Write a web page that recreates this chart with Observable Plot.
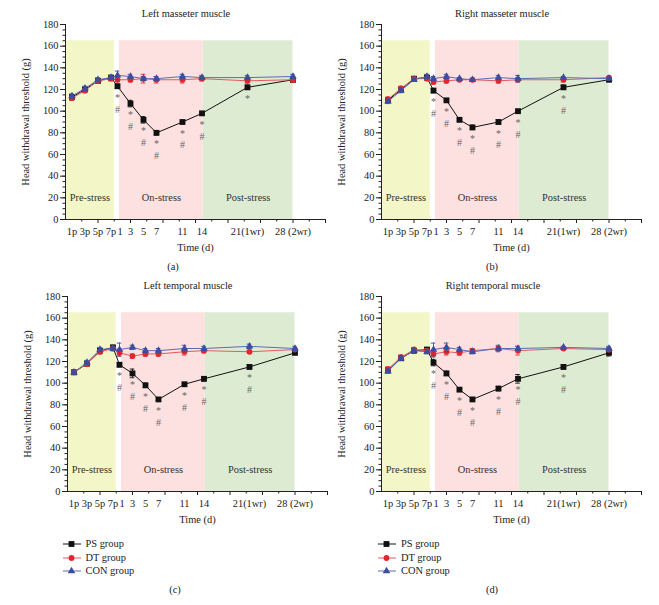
<!DOCTYPE html>
<html><head><meta charset="utf-8">
<script src="https://cdn.jsdelivr.net/npm/d3@7"></script>
<script src="https://cdn.jsdelivr.net/npm/@observablehq/plot@0.6"></script>
<style>
body{margin:0;background:#fff;}
#root{position:relative;width:659px;height:605px;overflow:hidden;font-family:"Liberation Serif","Times New Roman",serif;color:#222;background:#fff;}
.abs{position:absolute;white-space:nowrap;font-size:10.4px;line-height:12px;}
.c{transform:translateX(-50%);}
.panel{position:absolute;}
.leg{position:absolute;font-size:10.4px;line-height:12px;white-space:nowrap;}
.leg div{height:13.5px;display:flex;align-items:center;}
.leg svg{margin-right:5px;}
</style></head><body><div id="root"></div>
<script>
// ---- data ----
const days = [-6, -4, -2, 0, 1, 3, 5, 7, 11, 14, 21, 28];
const dayLabels = ["1p", "3p", "5p", "7p", "1", "3", "5", "7", "11", "14", "21(1wr)", "28 (2wr)"];
const groups = ["PS group", "DT group", "CON group"];
const groupColors = ["#111111", "#e3262d", "#3a4d9e"];
const lineColors = ["#111111", "#e55a5f", "#5a6db5"];
const groupSymbols = ["square", "circle", "triangle"];
const groupR = [3.3, 2.9, 2.8];

const phaseNames = ["Pre-stress", "On-stress", "Post-stress"];
const phaseStart = [-7, 1.3, 14.2];
const phaseEnd = [0.5, 14.2, 28];
const phaseColors = ["#f3f6c6", "#fde0e0", "#deebd3"];

const titles = ["Left masseter muscle", "Right masseter muscle", "Left temporal muscle", "Right temporal muscle"];
const captions = ["(a)", "(b)", "(c)", "(d)"];

// (a) Left masseter
const aPS  = [113, 120, 128, 131, 123, 107, 92, 80, 90, 98, 122, 129];
const aDT  = [112, 119, 128, 130, 129, 129, 130, 129, 129, 130, 128, 129];
const aCON = [114, 121, 129, 131, 133, 132, 130, 130, 132, 131, 131, 132];
const aPSe  = [2, 2, 2, 2, 2, 3, 3, 2, 1, 1, 2, 2];
const aDTe  = [2, 2, 2, 2, 2, 2, 4, 3, 3, 2, 2, 2];
const aCONe = [2, 2, 2, 2, 4, 2, 2, 2, 2, 2, 2, 2];
const aSig = ["", "", "", "", "*#", "*#", "*#", "*#", "*#", "*#", "*", ""];

// (b) Right masseter
const bPS  = [110, 120, 130, 131, 119, 110, 92, 85, 90, 100, 122, 129];
const bDT  = [111, 121, 130, 130, 127, 128, 129, 129, 128, 129, 129, 131];
const bCON = [109, 119, 129, 132, 130, 132, 130, 129, 131, 130, 131, 130];
const bPSe  = [2, 2, 1, 2, 2, 1, 1, 2, 2, 1, 2, 1];
const bDTe  = [2, 2, 1, 1, 2, 2, 1, 1, 2, 2, 2, 1];
const bCONe = [2, 2, 1, 2, 2, 2, 1, 1, 2, 3, 1, 1];
const bSig = ["", "", "", "", "*#", "*#", "*#", "*#", "*#", "*#", "*#", ""];

// (c) Left temporal
const cPS  = [110, 118, 130, 133, 117, 109, 98, 85, 99, 104, 115, 128];
const cDT  = [110, 118, 129, 132, 128, 125, 127, 127, 129, 130, 129, 131];
const cCON = [110, 119, 131, 132, 131, 133, 130, 130, 132, 132, 134, 132];
const cPSe  = [2, 2, 2, 2, 2, 4, 2, 1, 1, 2, 2, 1];
const cDTe  = [2, 2, 2, 2, 3, 2, 2, 2, 3, 2, 1, 1];
const cCONe = [2, 2, 2, 2, 6, 2, 2, 2, 3, 2, 2, 2];
const cSig = ["", "", "", "", "*#", "*#", "*#", "*#", "*#", "*#", "*#", ""];

// (d) Right temporal
const dPS  = [112, 123, 130, 131, 119, 109, 94, 85, 95, 104, 115, 128];
const dDT  = [113, 124, 131, 130, 127, 129, 128, 130, 132, 130, 132, 131];
const dCON = [111, 123, 130, 129, 131, 133, 131, 129, 132, 132, 133, 132];
const dPSe  = [2, 2, 2, 2, 3, 2, 1, 1, 2, 4, 2, 3];
const dDTe  = [2, 2, 2, 2, 3, 3, 2, 2, 2, 4, 1, 2];
const dCONe = [2, 2, 2, 2, 6, 4, 2, 2, 3, 2, 1, 2];
const dSig = ["", "", "", "", "*#", "*#", "*#", "*#", "*#", "*#", "*#", ""];

// ---- layout ----
const FS = "10.4px";
const root = document.getElementById("root");

function makePanel(vals, errs, sig) {
  const phases = phaseNames.map((n, i) => ({name: n, x1: phaseStart[i], x2: phaseEnd[i], mid: (phaseStart[i] + phaseEnd[i]) / 2, color: phaseColors[i]}));
  const byGroup = vals.map((vs, gi) => vs.map((v, i) => ({x: days[i], v, e: errs[gi][i], gi, sig: gi === 0 ? sig[i] : ""})));
  const labelMap = new Map(days.map((d, i) => [d, dayLabels[i]]));
  const marks = [
    Plot.rect(phases, {x1: "x1", x2: "x2", y1: 0, y2: 165, fill: d => d.color}),
    Plot.text(phases, {x: "mid", y: 20.5, text: "name", fill: "#333", fontSize: 10.4}),
    Plot.ruleX([-7], {y1: 0, y2: 180, stroke: "#222"}),
    Plot.ruleY([0], {x1: -7, x2: 33, stroke: "#222"}),
    Plot.axisY({ticks: d3.range(0, 181, 5), tickSize: 2.5, tickFormat: () => "", label: null, stroke: "#222"}),
    Plot.axisY({ticks: d3.range(0, 181, 20), tickSize: 5, tickPadding: 2, label: "Head withdrawal threshold (g)", labelAnchor: "center", labelArrow: "none", labelOffset: 44, fill: "#222", stroke: "#222"}),
    Plot.axisX({ticks: d3.range(-4.5, 34, 5), tickSize: 2.5, tickFormat: () => "", label: null, stroke: "#222"}),
    Plot.axisX({ticks: d3.range(-2, 34, 5), tickSize: 4, tickFormat: () => "", label: null, stroke: "#222"}),
    Plot.axisX({ticks: days.filter(d => d !== 1), tickSize: 0, tickPadding: 8, tickFormat: d => labelMap.get(d), label: "Time (d)", labelAnchor: "center", labelArrow: "none", labelOffset: 31, fill: "#222"}),
    Plot.axisX({ticks: [1], tickSize: 0, tickPadding: 8, dx: 2.5, tickFormat: d => labelMap.get(d), label: null, fill: "#222"})
  ];
  byGroup.forEach((rows, gi) => {
    const col = groupColors[gi];
    marks.push(
      Plot.line(rows, {x: "x", y: "v", stroke: lineColors[gi], strokeWidth: 1}),
      Plot.ruleX(rows, {x: "x", y1: d => d.v - d.e, y2: d => d.v + d.e, stroke: col, strokeWidth: 0.9}),
      Plot.ruleY(rows, {y: d => d.v + d.e, x1: d => d.x - 0.35, x2: d => d.x + 0.35, stroke: col, strokeWidth: 0.9}),
      Plot.ruleY(rows, {y: d => d.v - d.e, x1: d => d.x - 0.35, x2: d => d.x + 0.35, stroke: col, strokeWidth: 0.9}),
      Plot.dot(rows, {x: "x", y: "v", symbol: () => groupSymbols[gi], r: groupR[gi], fill: col, stroke: "none"})
    );
  });
  const ps = byGroup[0];
  marks.push(
    Plot.text(ps.filter(d => d.sig.includes("*")), {x: "x", y: "v", text: () => "*", dy: 11.3, fill: "#666", fontSize: 10}),
    Plot.text(ps.filter(d => d.sig.includes("#")), {x: "x", y: "v", text: () => "#", dy: 23.2, fill: "#666", fontSize: 10})
  );
  return Plot.plot({
    width: 315, height: 250,
    marginLeft: 45, marginRight: 10, marginTop: 10, marginBottom: 45,
    x: {domain: [-7, 33]},
    y: {domain: [0, 180]},
    color: {type: "identity"},
    style: {fontFamily: '"Liberation Serif","Times New Roman",serif', fontSize: FS, background: "transparent", color: "#222", overflow: "visible"},
    marks
  });
}

const panels = [
  {vals: [aPS, aDT, aCON], errs: [aPSe, aDTe, aCONe], sig: aSig, left: 20, top: 14.4, tx: 186, ty: 8, cx: 173, cy: 261},
  {vals: [bPS, bDT, bCON], errs: [bPSe, bDTe, bCONe], sig: bSig, left: 336, top: 14.4, tx: 502, ty: 8, cx: 492, cy: 261},
  {vals: [cPS, cDT, cCON], errs: [cPSe, cDTe, cCONe], sig: cSig, left: 21.7, top: 285.6, tx: 188, ty: 280, cx: 175, cy: 584},
  {vals: [dPS, dDT, dCON], errs: [dPSe, dDTe, dCONe], sig: dSig, left: 336, top: 285.6, tx: 493, ty: 280, cx: 492, cy: 584}
];

panels.forEach((p, i) => {
  const svg = makePanel(p.vals, p.errs, p.sig);
  const wrap = document.createElement("div");
  wrap.className = "panel";
  wrap.style.left = p.left + "px";
  wrap.style.top = p.top + "px";
  wrap.appendChild(svg);
  root.appendChild(wrap);
  const t = document.createElement("div");
  t.className = "abs c"; t.style.left = p.tx + "px"; t.style.top = p.ty + "px";
  t.textContent = titles[i];
  root.appendChild(t);
  const c = document.createElement("div");
  c.className = "abs c"; c.style.left = p.cx + "px"; c.style.top = p.cy + "px";
  c.textContent = captions[i];
  root.appendChild(c);
});

function legend(left, top) {
  const box = document.createElement("div");
  box.className = "leg";
  box.style.left = left + "px";
  box.style.top = top + "px";
  groups.forEach((g, gi) => {
    const row = document.createElement("div");
    const ns = "http://www.w3.org/2000/svg";
    const s = document.createElementNS(ns, "svg");
    s.setAttribute("width", 18); s.setAttribute("height", 10);
    const ln = document.createElementNS(ns, "line");
    ln.setAttribute("x1", 0); ln.setAttribute("x2", 18); ln.setAttribute("y1", 5); ln.setAttribute("y2", 5);
    ln.setAttribute("stroke", lineColors[gi]); ln.setAttribute("stroke-width", 1);
    s.appendChild(ln);
    const sym = d3.symbol(d3["symbol" + groupSymbols[gi][0].toUpperCase() + groupSymbols[gi].slice(1)], Math.PI * groupR[gi] * groupR[gi]);
    const pth = document.createElementNS(ns, "path");
    pth.setAttribute("d", sym()); pth.setAttribute("transform", "translate(8.5,5)");
    pth.setAttribute("fill", groupColors[gi]);
    s.appendChild(pth);
    row.appendChild(s);
    const tx = document.createElement("span");
    tx.textContent = g;
    row.appendChild(tx);
    box.appendChild(row);
  });
  root.appendChild(box);
}
legend(62.5, 537.5);
legend(378, 537.5);
</script></body></html>
